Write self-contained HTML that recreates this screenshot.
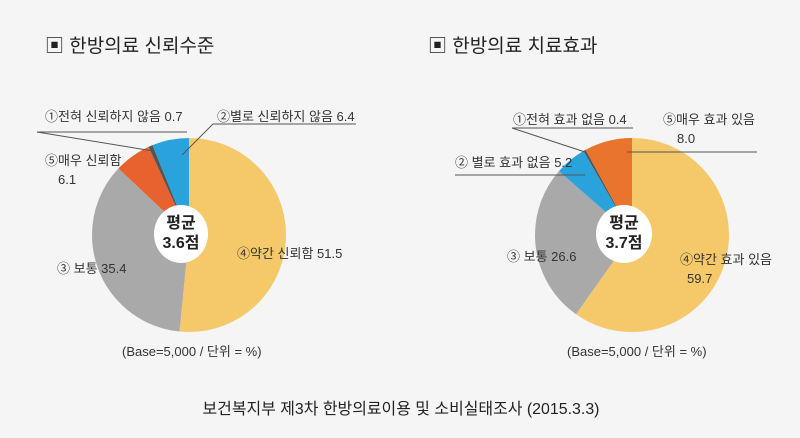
<!DOCTYPE html>
<html><head><meta charset="utf-8"><style>
html,body{margin:0;padding:0;background:#f5f5f5}
svg{display:block}
text{font-family:"Liberation Sans","Noto Sans CJK KR","NanumGothic",sans-serif;fill:#333}
</style></head><body>
<svg width="800" height="438" viewBox="0 0 800 438" xmlns="http://www.w3.org/2000/svg">
<rect width="800" height="438" fill="#f5f5f5"/>
<g font-size="19" fill="#222">
<text x="45" y="52" style="fill:#222">▣ 한방의료 신뢰수준</text>
<text x="428" y="52" style="fill:#222">▣ 한방의료 치료효과</text>
<text x="401" y="414" text-anchor="middle" style="fill:#222" font-size="16" textLength="397" lengthAdjust="spacingAndGlyphs">보건복지부 제3차 한방의료이용 및 소비실태조사 (2015.3.3)</text>
</g>
<g transform="translate(189,235) rotate(-90)" fill="none" stroke-width="97">
<circle r="48.5" stroke="#f5c96a" stroke-dasharray="156.94 400" stroke-dashoffset="0"/>
<circle r="48.5" stroke="#a9a9a9" stroke-dasharray="107.87 400" stroke-dashoffset="-156.94"/>
<circle r="48.5" stroke="#e8622f" stroke-dasharray="18.59 400" stroke-dashoffset="-264.81"/>
<circle r="48.5" stroke="#555" stroke-dasharray="2.13 400" stroke-dashoffset="-283.40"/>
<circle r="48.5" stroke="#2aa3dc" stroke-dasharray="19.50 400" stroke-dashoffset="-285.53"/>
</g>
<ellipse cx="181" cy="234" rx="27" ry="29" fill="#fff"/>
<g font-size="16" font-weight="bold" text-anchor="middle"><text x="181" y="228" style="fill:#222">평균</text><text x="181" y="248" style="fill:#222">3.6점</text></g>
<g stroke="#555" stroke-width="1" fill="none">
<line x1="37" y1="132" x2="187" y2="132"/><line x1="37" y1="132" x2="153" y2="151"/>
<line x1="213" y1="124" x2="356" y2="124"/><line x1="213" y1="124" x2="182" y2="155"/>
</g>
<g font-size="13">
<text x="45" y="121">①전혀 신뢰하지 않음 0.7</text>
<text x="217" y="121">②별로 신뢰하지 않음 6.4</text>
<text x="45" y="165">⑤매우 신뢰함</text>
<text x="58" y="184">6.1</text>
<text x="57" y="273">③ 보통 35.4</text>
<text x="237" y="258">④약간 신뢰함 51.5</text>
<text x="122" y="356">(Base=5,000 / 단위 = %)</text>
</g>
<g transform="translate(632,235) rotate(-90)" fill="none" stroke-width="97">
<circle r="48.5" stroke="#f5c96a" stroke-dasharray="181.92 400" stroke-dashoffset="0"/>
<circle r="48.5" stroke="#a9a9a9" stroke-dasharray="81.06 400" stroke-dashoffset="-181.92"/>
<circle r="48.5" stroke="#2aa3dc" stroke-dasharray="15.85 400" stroke-dashoffset="-262.98"/>
<circle r="48.5" stroke="#555" stroke-dasharray="1.22 400" stroke-dashoffset="-278.83"/>
<circle r="48.5" stroke="#e8742e" stroke-dasharray="24.68 400" stroke-dashoffset="-280.05"/>
</g>
<ellipse cx="624" cy="234" rx="28" ry="29" fill="#fff"/>
<g font-size="16" font-weight="bold" text-anchor="middle"><text x="624" y="228" style="fill:#222">평균</text><text x="624" y="248" style="fill:#222">3.7점</text></g>
<g stroke="#555" stroke-width="1" fill="none">
<line x1="512" y1="128" x2="633" y2="128"/><line x1="512" y1="128" x2="585" y2="152"/>
<line x1="627" y1="152" x2="757" y2="152"/>
<line x1="455" y1="175" x2="585" y2="175"/>
</g>
<g font-size="13">
<text x="513" y="124">①전혀 효과 없음 0.4</text>
<text x="663" y="124">⑤매우 효과 있음</text>
<text x="677" y="143">8.0</text>
<text x="455" y="167">② 별로 효과 없음 5.2</text>
<text x="507" y="261">③ 보통 26.6</text>
<text x="680" y="264">④약간 효과 있음</text>
<text x="687" y="283">59.7</text>
<text x="567" y="356">(Base=5,000 / 단위 = %)</text>
</g>
</svg>
</body></html>
